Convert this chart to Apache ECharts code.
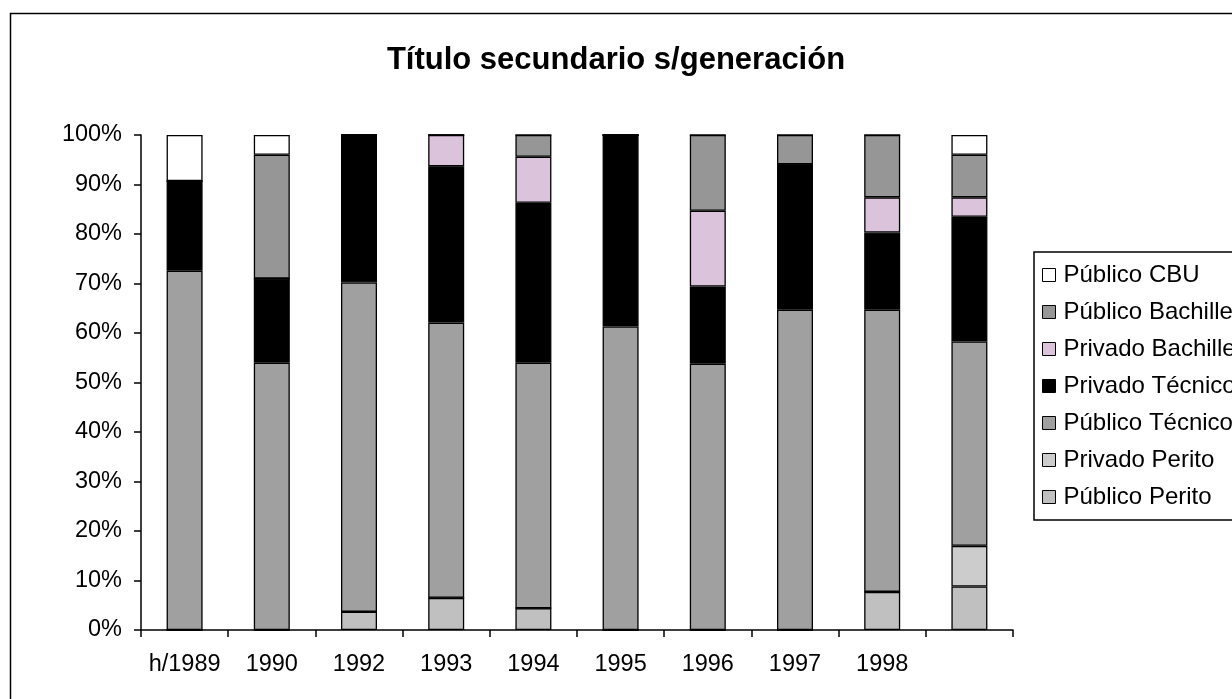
<!DOCTYPE html>
<html>
<head>
<meta charset="utf-8">
<script src="https://cdn.jsdelivr.net/npm/echarts@6/dist/echarts.min.js"></script>
<style>
  html, body { margin: 0; padding: 0; background: #fff; }
  #chart { width: 1232px; height: 699px; }
</style>
</head>
<body>
<div id="chart"></div>
<script>
  // categorías (la última columna no tiene rótulo)
  var categories = ['h/1989', '1990', '1992', '1993', '1994', '1995', '1996', '1997', '1998', ''];
  var yTicks = [0, 10, 20, 30, 40, 50, 60, 70, 80, 90, 100];

  // porcentajes, de abajo hacia arriba en la pila
  var publicoPerito     = [0,    0,    3.7,  6.5,  4.4,  0,    0,    0,    7.7,  8.8];
  var privadoPerito     = [0,    0,    0,    0,    0,    0,    0,    0,    0,    8.2];
  var publicoTecnico    = [72.6, 54.0, 66.5, 55.6, 49.6, 61.3, 53.8, 64.7, 57.0, 41.3];
  var privadoTecnico    = [18.1, 17.0, 29.8, 31.6, 32.3, 38.7, 15.6, 29.4, 15.6, 25.2];
  var privadoBachiller  = [0,    0,    0,    6.3,  9.3,  0,    15.3, 0,    7.1,  3.9];
  var publicoBachiller  = [0,    25.0, 0,    0,    4.4,  0,    15.3, 5.9,  12.6, 8.6];
  var publicoCBU        = [9.3,  4.0,  0,    0,    0,    0,    0,    0,    0,    4.0];

  var chart = echarts.init(document.getElementById('chart'));

  function serie(name, data, color) {
    return {
      name: name,
      type: 'bar',
      stack: 'total',
      barWidth: 36,
      data: data,
      itemStyle: { color: color, borderColor: '#000', borderWidth: 1.3 },
      emphasis: { disabled: true }
    };
  }

  var fuente = 'Liberation Sans, Arial, sans-serif';

  chart.setOption({
    animation: false,
    textStyle: { fontFamily: fuente },
    graphic: [{
      type: 'rect',
      left: 8, top: 11,
      shape: { width: 1300, height: 800 },
      style: { fill: 'none', stroke: '#000', lineWidth: 1.5 },
      silent: true, z: -10
    }],
    title: {
      text: 'Título secundario s/generación',
      left: 'center',
      top: 40,
      textStyle: { fontFamily: fuente, fontSize: 31, fontWeight: 'bold', color: '#000' }
    },
    legend: {
      orient: 'vertical',
      left: 1034,
      top: 252,
      padding: [11, 20, 11, 8],
      borderColor: '#000',
      borderWidth: 1.5,
      icon: 'rect',
      itemWidth: 13,
      itemHeight: 13,
      itemGap: 13,
      itemStyle: { borderColor: '#000', borderWidth: 1 },
      textStyle: { fontFamily: fuente, fontSize: 24, color: '#000', lineHeight: 24, padding: [0, 0, 0, 3] },
      data: ['Público CBU', 'Público Bachiller', 'Privado Bachiller', 'Privado Técnico',
             'Público Técnico', 'Privado Perito', 'Público Perito']
    },
    grid: { left: 141, top: 135, width: 872, height: 495, containLabel: false },
    xAxis: {
      type: 'category',
      data: categories,
      axisLine: { lineStyle: { color: '#000', width: 1.5 } },
      axisTick: { show: true, length: 7, lineStyle: { color: '#000', width: 1.5 } },
      axisLabel: { color: '#000', fontSize: 23.5, margin: 23, fontFamily: fuente, interval: 0 },
      splitLine: { show: false }
    },
    yAxis: {
      type: 'value',
      min: 0,
      max: 100,
      interval: 10,
      axisLine: { show: true, lineStyle: { color: '#000', width: 1.5 } },
      axisTick: { show: true, length: 7, lineStyle: { color: '#000', width: 1.5 } },
      axisLabel: {
        color: '#000', fontSize: 23.5, margin: 19, fontFamily: fuente,
        formatter: function (v) { return yTicks.indexOf(v) >= 0 ? v + '%' : ''; }
      },
      splitLine: { show: false }
    },
    series: [
      serie('Público Perito', publicoPerito, '#c0c0c0'),
      serie('Privado Perito', privadoPerito, '#cccccc'),
      serie('Público Técnico', publicoTecnico, '#a0a0a0'),
      serie('Privado Técnico', privadoTecnico, '#000000'),
      serie('Privado Bachiller', privadoBachiller, '#dcc3dc'),
      serie('Público Bachiller', publicoBachiller, '#969696'),
      serie('Público CBU', publicoCBU, '#ffffff')
    ]
  });
</script>
</body>
</html>
